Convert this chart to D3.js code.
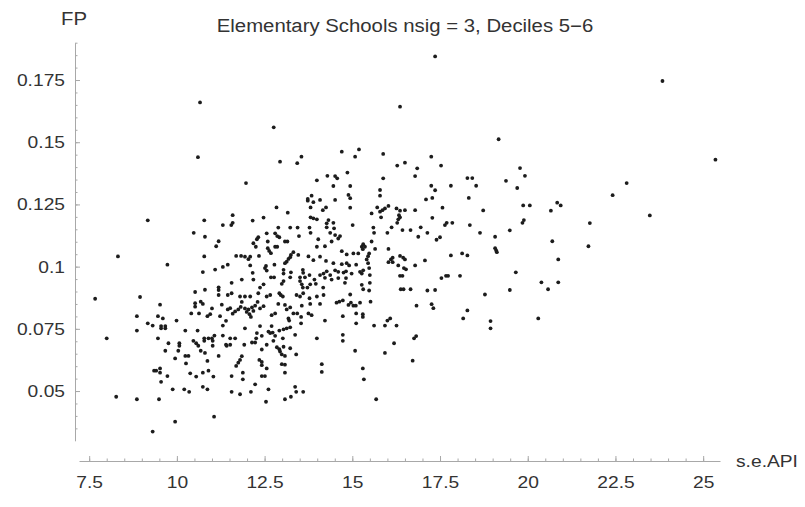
<!DOCTYPE html>
<html><head><meta charset="utf-8">
<script src="https://cdn.jsdelivr.net/npm/d3@7"></script>
<style>body{margin:0;background:#fff}svg{display:block}</style>
</head><body><svg id="c" width="805" height="507"></svg>
<script>
const title = "Elementary Schools nsig = 3, Deciles 5\u22126";
const xName = "s.e.API";
const yName = "FP";
const xTicks = [7.5, 10, 12.5, 15, 17.5, 20, 22.5, 25];
const xTickLabels = ["7.5", "10", "12.5", "15", "17.5", "20", "22.5", "25"];
const yTicks = [0.05, 0.075, 0.1, 0.125, 0.15, 0.175];
const yTickLabels = ["0.05", "0.075", "0.1", "0.125", "0.15", "0.175"];

const points = [
[10.66,0.1660],[12.76,0.1560],[10.60,0.1440],[12.94,0.1422],[13.55,0.1442],[13.43,0.1416],[11.97,0.1336],[13.99,0.1347],
[17.36,0.1845],
[9.17,0.1186],[10.78,0.1186],[11.31,0.1167],[10.48,0.1136],[10.80,0.1120],[11.19,0.1102],[11.12,0.1082],[8.32,0.1041],[10.78,0.1041],[9.73,0.1008],[11.45,0.1008],[11.31,0.0999],[11.09,0.0988],[10.74,0.0978],[10.52,0.0898],[10.80,0.0907],[11.19,0.0917],[11.19,0.0906],[11.19,0.0886],[11.45,0.0886],[8.95,0.0878],[7.67,0.0871],
[9.52,0.0847],[10.52,0.0853],[10.52,0.0839],[10.68,0.0859],[10.74,0.0850],[11.00,0.0832],[11.28,0.0847],[10.41,0.0812],[10.63,0.0812],[10.87,0.0801],[10.95,0.0809],[11.23,0.0801],[11.45,0.0828],[8.86,0.0801],[9.46,0.0801],[9.60,0.0792],[9.99,0.0783],[9.17,0.0772],[9.31,0.0763],[9.55,0.0761],[9.67,0.0761],[9.55,0.0752],[9.67,0.0752],[11.31,0.0763],[11.40,0.0782],[8.86,0.0743],[10.24,0.0743],[10.59,0.0743],[8.00,0.0712],[9.46,0.0712],[11.07,0.0723],[11.00,0.0712],[11.31,0.0723],[9.76,0.0692],[10.07,0.0692],[10.07,0.0682],[10.47,0.0702],[10.55,0.0692],[10.61,0.0682],[10.78,0.0712],[10.78,0.0702],[10.90,0.0712],[11.02,0.0702],[11.02,0.0682],[11.42,0.0682],[9.67,0.0662],[10.04,0.0662],[10.68,0.0662],[10.80,0.0653],[11.19,0.0641],[9.95,0.0631],[10.24,0.0641],[10.33,0.0641],[10.26,0.0611],[10.87,0.0621],[9.35,0.0582],[9.41,0.0582],[9.52,0.0591],[9.52,0.0574],[9.73,0.0560],[9.55,0.0537],[10.38,0.0571],[10.55,0.0558],[10.74,0.0574],[10.90,0.0582],[11.04,0.0558],[9.88,0.0507],[10.21,0.0507],[10.35,0.0497],[10.74,0.0517],[10.87,0.0507],[8.27,0.0477],[8.86,0.0467],[9.49,0.0467],[11.06,0.0397],[9.95,0.0377],[9.31,0.0337],
[13.84,0.1285],[13.73,0.1272],[13.73,0.1265],[14.08,0.1268],[13.89,0.1259],[14.25,0.1238],[14.16,0.1227],[13.81,0.1238],[12.84,0.1238],[13.16,0.1217],[13.81,0.1198],[13.89,0.1194],[13.99,0.1190],[11.59,0.1207],[11.59,0.1176],[11.55,0.1167],[12.16,0.1185],[12.47,0.1197],[14.27,0.1174],[13.78,0.1157],[12.89,0.1157],[13.23,0.1157],[13.44,0.1157],[12.56,0.1134],[12.80,0.1134],[12.86,0.1123],[12.92,0.1118],[13.81,0.1136],[13.48,0.1123],[12.32,0.1118],[12.28,0.1110],[12.59,0.1101],[13.08,0.1101],[13.15,0.1101],[14.03,0.1110],[12.18,0.1094],[12.25,0.1080],[12.80,0.1080],[12.86,0.1080],[13.99,0.1080],[12.59,0.1074],[12.63,0.1063],[12.68,0.1054],[13.32,0.1058],[13.25,0.1047],[13.46,0.1047],[11.69,0.1043],[11.83,0.1043],[11.94,0.1040],[12.09,0.1040],[12.34,0.1043],[13.75,0.1041],[14.08,0.1040],[12.04,0.1030],[13.18,0.1031],[13.23,0.1038],[13.13,0.1020],[13.08,0.1014],[13.89,0.1026],[14.25,0.1023],[12.54,0.1003],[12.51,0.0994],[12.56,0.0984],[12.78,0.1008],[13.04,0.0987],[13.25,0.0977],[13.59,0.0987],[13.78,0.0966],[14.08,0.0966],[12.16,0.0975],[12.09,0.1005],[13.04,0.0972],[13.60,0.0975],[13.51,0.0957],[13.65,0.0957],[13.23,0.0957],[12.68,0.0957],[12.77,0.0957],[11.85,0.0948],[13.92,0.0948],[11.56,0.0935],[13.04,0.0942],[12.99,0.0931],[12.47,0.0929],[12.37,0.0916],[13.51,0.0942],[13.56,0.0929],[13.59,0.0916],[13.80,0.0929],[13.72,0.0916],[13.96,0.0931],[14.17,0.0916],[12.18,0.0948],[11.56,0.0893],[11.80,0.0880],[11.94,0.0880],[12.09,0.0880],[12.92,0.0893],[12.96,0.0886],[13.02,0.0880],[12.56,0.0880],[12.66,0.0886],[13.41,0.0886],[13.51,0.0880],[13.60,0.0893],[13.78,0.0873],[13.99,0.0880],[12.32,0.0893],
[11.52,0.0833],[11.66,0.0820],[11.59,0.0811],[11.75,0.0828],[11.82,0.0838],[11.85,0.0858],[11.94,0.0832],[11.99,0.0818],[12.07,0.0809],[12.04,0.0828],[12.14,0.0836],[12.18,0.0822],[12.11,0.0798],[12.23,0.0843],[12.37,0.0832],[12.47,0.0841],[12.30,0.0858],[12.70,0.0805],[12.80,0.0812],[12.89,0.0850],[13.08,0.0846],[13.13,0.0828],[13.23,0.0836],[13.32,0.0812],[13.43,0.0812],[13.56,0.0843],[13.54,0.0798],[13.54,0.0772],[13.18,0.0792],[13.20,0.0783],[13.75,0.0812],[13.84,0.0805],[13.80,0.0850],[14.08,0.0850],[14.22,0.0783],[11.94,0.0752],[12.37,0.0761],[12.70,0.0761],[12.61,0.0739],[12.66,0.0733],[12.73,0.0735],[12.92,0.0743],[13.04,0.0748],[13.13,0.0752],[13.23,0.0756],[12.28,0.0733],[12.42,0.0722],[12.80,0.0722],[13.02,0.0712],[13.37,0.0726],[11.52,0.0712],[11.66,0.0712],[11.40,0.0686],[11.52,0.0686],[11.92,0.0686],[12.14,0.0695],[12.23,0.0695],[12.26,0.0712],[12.42,0.0667],[12.56,0.0686],[12.75,0.0702],[12.85,0.0676],[12.92,0.0668],[12.94,0.0659],[13.04,0.0678],[13.23,0.0672],[12.99,0.0647],[13.08,0.0641],[13.40,0.0647],[11.85,0.0640],[11.80,0.0625],[11.75,0.0614],[11.69,0.0601],[12.35,0.0625],[12.42,0.0617],[12.42,0.0604],[12.99,0.0608],[13.08,0.0606],[12.56,0.0591],[13.08,0.0574],[14.13,0.0608],[14.13,0.0577],[13.99,0.0712],[11.56,0.0560],[11.88,0.0574],[11.88,0.0547],[12.42,0.0560],[12.51,0.0560],[12.23,0.0527],[13.37,0.0517],[11.56,0.0497],[11.80,0.0487],[12.11,0.0497],[12.61,0.0507],[13.40,0.0497],[13.60,0.0497],[13.25,0.0477],[13.08,0.0467],[12.54,0.0457],
[16.36,0.1643],[14.70,0.1462],[15.19,0.1471],[15.08,0.1442],[15.88,0.1453],[16.28,0.1406],[16.50,0.1418],[16.85,0.1395],[16.79,0.1364],[14.29,0.1365],[14.51,0.1364],[14.57,0.1355],[14.86,0.1378],[15.88,0.1355],[14.46,0.1324],[14.94,0.1324],[15.79,0.1308],[15.79,0.1285],[14.89,0.1288],[14.94,0.1275],[14.51,0.1268],[14.94,0.1237],[15.71,0.1238],[15.79,0.1221],[15.86,0.1227],[15.93,0.1234],[16.03,0.1244],[15.55,0.1214],[15.82,0.1198],[16.36,0.1198],[16.33,0.1207],[16.31,0.1190],[16.26,0.1234],[16.36,0.1225],[16.50,0.1227],[16.79,0.1227],[17.10,0.1270],[14.32,0.1187],[14.46,0.1176],[14.27,0.1158],[14.48,0.1154],[15.01,0.1167],[15.60,0.1157],[15.62,0.1136],[16.12,0.1158],[16.28,0.1176],[16.43,0.1147],[16.66,0.1147],[16.95,0.1158],[17.14,0.1136],[16.88,0.1120],[16.00,0.1136],[14.37,0.1136],[14.51,0.1127],[14.60,0.1113],[14.65,0.1123],[14.22,0.1082],[14.41,0.1101],[14.70,0.1062],[14.84,0.1049],[15.03,0.1053],[15.17,0.1053],[15.27,0.1080],[15.31,0.1090],[15.36,0.1080],[15.30,0.1070],[15.55,0.1101],[15.48,0.1053],[15.45,0.1042],[15.41,0.1029],[15.65,0.1071],[16.03,0.1071],[16.10,0.1029],[16.15,0.1036],[16.15,0.1018],[16.03,0.1018],[16.36,0.1043],[16.45,0.1036],[16.50,0.1029],[16.31,0.1005],[16.47,0.0994],[16.53,0.0989],[16.79,0.1005],[17.07,0.1025],[14.46,0.1014],[14.70,0.1010],[14.84,0.1014],[14.91,0.1005],[15.11,0.1008],[15.45,0.1014],[15.48,0.0994],[14.27,0.0981],[14.18,0.0972],[14.22,0.0955],[14.37,0.0966],[14.51,0.0985],[14.60,0.0979],[14.75,0.0976],[14.82,0.0981],[14.98,0.0972],[15.22,0.0979],[15.27,0.0972],[15.31,0.0985],[15.50,0.0966],[14.41,0.0948],[14.60,0.0954],[14.82,0.0954],[14.79,0.0935],[15.27,0.0927],[15.31,0.0909],[15.50,0.0935],[15.48,0.0904],[16.36,0.0963],[16.43,0.0963],[16.38,0.0909],[16.46,0.0909],[16.66,0.0909],[14.18,0.0886],[14.94,0.0888],[17.14,0.0904],[14.73,0.0864],
[14.55,0.0855],[14.63,0.0859],[14.89,0.0846],[14.96,0.0855],[15.03,0.0843],[15.10,0.0843],[15.22,0.0855],[15.52,0.0859],[16.83,0.0843],[14.73,0.0801],[15.11,0.0812],[15.30,0.0809],[15.30,0.0798],[15.11,0.0772],[15.62,0.0763],[15.93,0.0763],[16.00,0.0783],[16.08,0.0792],[16.26,0.0763],[14.73,0.0726],[14.73,0.0702],[15.08,0.0662],[16.19,0.0692],[15.93,0.0653],[16.82,0.0721],[16.76,0.0712],[16.72,0.0622],[15.30,0.0591],[15.33,0.0547],[15.68,0.0467],
[19.17,0.1512],[17.25,0.1442],[17.53,0.1406],[19.78,0.1396],[19.92,0.1365],[18.28,0.1356],[18.42,0.1356],[18.53,0.1325],[19.38,0.1345],[19.70,0.1316],[17.25,0.1325],[17.36,0.1307],[17.81,0.1325],[17.28,0.1276],[18.32,0.1276],[19.87,0.1246],[20.06,0.1246],[17.57,0.1237],[18.73,0.1226],[17.28,0.1196],[17.64,0.1167],[17.69,0.1176],[17.85,0.1176],[18.35,0.1167],[19.85,0.1176],[19.89,0.1187],[17.40,0.1108],[17.50,0.1118],[18.64,0.1136],[19.07,0.1120],[19.49,0.1146],[19.07,0.1074],[19.10,0.1065],[19.12,0.1058],[17.81,0.1045],[18.13,0.1053],[18.28,0.1045],[19.66,0.0977],[17.54,0.0954],[17.67,0.0963],[17.73,0.0963],[18.07,0.0963],[17.36,0.0906],[18.78,0.0888],[19.49,0.0906],
[17.26,0.0849],[17.31,0.0833],[18.28,0.0824],[18.16,0.0792],[18.94,0.0781],[18.94,0.0752],[20.30,0.0792],
[23.84,0.1746],[22.82,0.1336],[22.42,0.1287],[20.84,0.1257],[20.94,0.1246],[20.66,0.1225],[23.48,0.1206],[21.77,0.1175],[20.70,0.1102],[21.73,0.1082],[20.87,0.1029],[20.39,0.0937],[20.87,0.0937],[20.58,0.0909],
[25.35,0.1430]
];
const seApi = points.map(p => p[0]);
const fp = points.map(p => p[1]);

const svg = d3.select("#c");
const font = "'Liberation Sans', Arial, sans-serif";
const stretch = 1.13;
const x = d3.scaleLinear().domain([7.21, 25.48]).range([79, 720]);
const y = d3.scaleLinear().domain([0.03, 0.19]).range([440.8, 42.7]);
const axisY = 461;
const axisX = 75;

const axisColor = "#a8a8a8";
const textColor = "#333";

function widen(sel) {
  sel.each(function () {
    const w = this.getComputedTextLength();
    d3.select(this).attr("textLength", w * stretch).attr("lengthAdjust", "spacingAndGlyphs");
  });
}

// x axis
const xMinor = d3.range(7.5, 25.01, 0.5);
const gx = svg.append("g").attr("transform", `translate(0,${axisY})`);
gx.call(d3.axisBottom(x).tickValues(xMinor).tickSizeInner(-2.5).tickSizeOuter(0).tickFormat(""));
gx.select(".domain").attr("stroke", axisColor);
gx.selectAll(".tick line").attr("stroke", axisColor);
const gx2 = svg.append("g").attr("transform", `translate(0,${axisY})`);
gx2.call(d3.axisBottom(x).tickValues(xTicks).tickSizeInner(-5).tickSizeOuter(0).tickPadding(15)
  .tickFormat((d, i) => xTickLabels[i]));
gx2.select(".domain").remove();
gx2.selectAll(".tick line").attr("stroke", axisColor);
gx2.selectAll(".tick text").attr("font-family", font).attr("font-size", 17).attr("fill", textColor).call(widen);

// y axis
const yMinor = d3.range(0.035, 0.1901, 0.005);
const gy = svg.append("g").attr("transform", `translate(${axisX},0)`);
gy.call(d3.axisLeft(y).tickValues(yMinor).tickSizeInner(-2.5).tickSizeOuter(0).tickFormat(""));
gy.select(".domain").attr("stroke", axisColor);
gy.selectAll(".tick line").attr("stroke", axisColor);
const gy2 = svg.append("g").attr("transform", `translate(${axisX},0)`);
gy2.call(d3.axisLeft(y).tickValues(yTicks).tickSizeInner(-5).tickSizeOuter(0).tickPadding(10)
  .tickFormat((d, i) => yTickLabels[i]));
gy2.select(".domain").remove();
gy2.selectAll(".tick line").attr("stroke", axisColor);
gy2.selectAll(".tick text").attr("font-family", font).attr("font-size", 17).attr("fill", textColor).call(widen);

// points
svg.append("g").selectAll("circle").data(seApi).join("circle")
  .attr("cx", d => x(d))
  .attr("cy", (d, i) => y(fp[i]))
  .attr("r", 1.9)
  .attr("fill", "#1c1c1c");

// labels
svg.append("text").attr("x", 405).attr("y", 32).attr("text-anchor", "middle")
  .attr("font-family", font).attr("font-size", 18).attr("fill", textColor).text(title).call(widen);
svg.append("text").attr("x", axisX - 1).attr("y", 25).attr("text-anchor", "middle")
  .attr("font-family", font).attr("font-size", 18).attr("fill", textColor).text(yName).call(widen);
svg.append("text").attr("x", 736).attr("y", axisY + 6).attr("text-anchor", "start")
  .attr("font-family", font).attr("font-size", 17).attr("fill", textColor).text(xName).call(widen);
</script></body></html>
